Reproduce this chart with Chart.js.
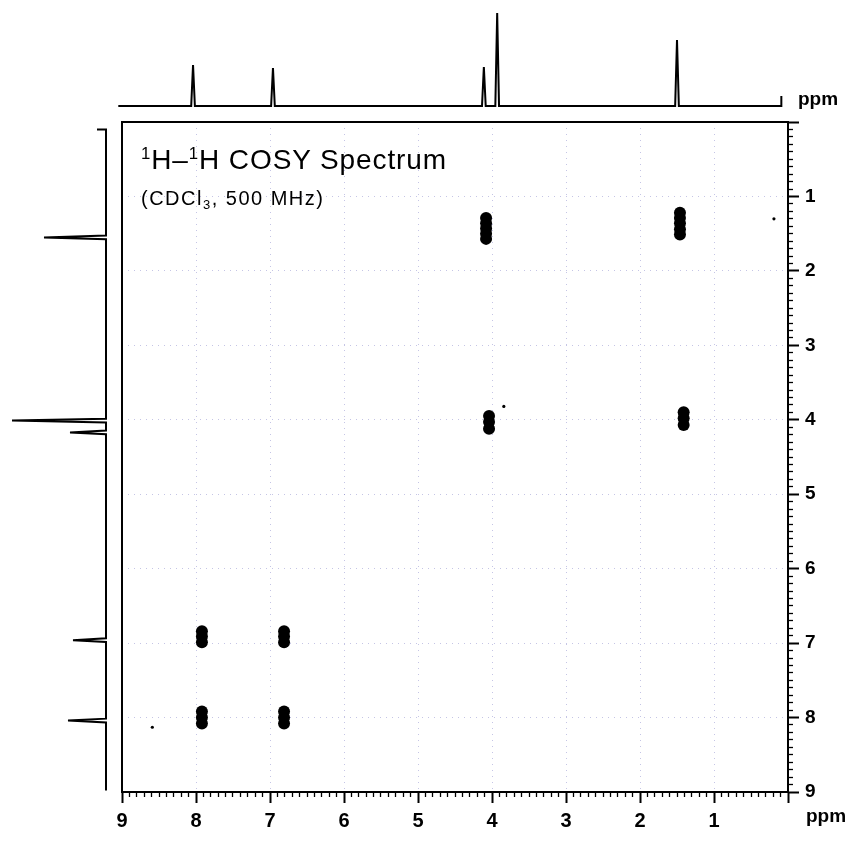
<!DOCTYPE html>
<html>
<head>
<meta charset="utf-8">
<script src="https://cdn.jsdelivr.net/npm/chart.js@4.4.1/dist/chart.umd.min.js"></script>
<style>
  html, body { margin: 0; padding: 0; background: #fff; }
  #wrap { position: relative; width: 853px; height: 843px; overflow: hidden;
          font-family: "Liberation Sans", Arial, sans-serif; }
  canvas { position: absolute; left: 0; top: 0; }
  .lbl { position: absolute; color: #000; white-space: nowrap; line-height: 1; }
  .lbl sup { font-size: 0.6em; position: relative; top: -0.62em; vertical-align: baseline; }
  .lbl sub { font-size: 0.65em; position: relative; top: 0.3em; vertical-align: baseline; }
</style>
</head>
<body>
<div id="wrap">
  <canvas id="topSpec" width="853" height="125"></canvas>
  <canvas id="leftSpec" width="120" height="843"></canvas>
  <canvas id="cosy" width="853" height="843"></canvas>
  <div class="lbl" style="left:141px; top:146px; font-size:28px; letter-spacing:0.9px;"><sup>1</sup>H–<sup>1</sup>H COSY Spectrum</div>
  <div class="lbl" style="left:141px; top:188px; font-size:20px; letter-spacing:1.5px;">(CDCl<sub>3</sub>, 500 MHz)</div>
  <div class="lbl" style="left:798px; top:89px; font-size:19px; font-weight:bold;">ppm</div>
  <div class="lbl" style="left:806px; top:806px; font-size:19px; font-weight:bold;">ppm</div>
</div>
<script>
// 1D projection on top (f2), ppm vs intensity
const topPpm = [9.05, 8.065, 8.04, 8.015, 6.985, 6.96, 6.935, 4.135, 4.11, 4.085, 3.955, 3.93, 3.905, 1.525, 1.50, 1.475, 0.09, 0.09];
const topInt = [0, 0, 41, 0, 0, 38, 0, 0, 39, 0, 0, 93, 0, 0, 66, 0, 0, 10];

// 1D projection on the left (f1)
const leftPpm = [0.10, 0.10, 1.525, 1.55, 1.575, 3.985, 4.01, 4.035, 4.145, 4.17, 4.195, 6.935, 6.96, 6.985, 8.015, 8.04, 8.065, 8.98];
const leftInt = [9, 0, 0, 62, 0, 0, 94, 0, 0, 36, 0, 0, 33, 0, 0, 38, 0, 0];

// cross / diagonal peaks (each contour blob drawn as a few overlapping lobes)
const crossX = [
    4.08, 4.08, 4.08, 4.08, 4.08,
    1.46, 1.46, 1.46, 1.46, 1.46,
    4.04, 4.04, 4.04,
    1.41, 1.41, 1.41,
    7.92, 7.92, 7.92,
    6.81, 6.81, 6.81,
    7.92, 7.92, 7.92,
    6.81, 6.81, 6.81
];
const crossY = [
    1.29, 1.36, 1.43, 1.50, 1.57,
    1.22, 1.29, 1.36, 1.44, 1.51,
    3.95, 4.03, 4.12,
    3.90, 3.98, 4.07,
    6.84, 6.91, 6.99,
    6.84, 6.91, 6.99,
    7.92, 8.00, 8.08,
    7.92, 8.00, 8.08
];

// small noise specks
const speckX = [3.84, 0.19, 8.59];
const speckY = [3.82, 1.30, 8.13];

const ppmMin = 0;
const ppmMax = 9;

function isWhole( v )
{
    return Math.abs(v - Math.round(v)) < 1e-6;
}

function pairs( xs, ys )
{
    return xs.map(( x, i ) => ({ x: x, y: ys[i] }));
}

const gridColor = 'rgba(110,110,190,0.4)';
const tickFontBottom = { family: '"Liberation Sans", Arial, sans-serif', size: 20, weight: 'bold' };
const tickFontRight  = { family: '"Liberation Sans", Arial, sans-serif', size: 19, weight: 'bold' };

function ppmAxis( extra )
{
    return Object.assign({
        type: 'linear',
        min: ppmMin,
        max: ppmMax,
        reverse: true,
        grid: {
            color: (c) => (c.tick && isWhole(c.tick.value) && c.tick.value > 0 && c.tick.value < 9) ? gridColor : 'rgba(0,0,0,0)',
            lineWidth: 1,
            tickLength: 11,
            tickColor: '#000',
            tickWidth: (c) => (c.tick && isWhole(c.tick.value)) ? 2 : 1.3,
            tickBorderDash: (c) => (c.tick && isWhole(c.tick.value)) ? [] : [4, 40]
        },
        border: { display: true, color: '#000', width: 2, dash: [1, 5] }
    }, extra);
}

const framePlugin = {
    id: 'frame',
    afterDraw( chart )
    {
        const a = chart.chartArea;
        const ctx = chart.ctx;
        ctx.save();
        ctx.strokeStyle = '#000';
        ctx.lineWidth = 2;
        ctx.strokeRect(a.left, a.top, a.right - a.left, a.bottom - a.top);
        ctx.restore();
    }
};

const noAnim = { animation: false, responsive: false, events: [] };

// main 2D COSY plot
new Chart(document.getElementById('cosy'), {
    type: 'scatter',
    data: {
        datasets: [
            {
                data: pairs(crossX, crossY),
                pointRadius: 6,
                pointBackgroundColor: '#000',
                pointBorderWidth: 0
            },
            {
                data: pairs(speckX, speckY),
                pointRadius: 1.6,
                pointBackgroundColor: '#000',
                pointBorderWidth: 0
            }
        ]
    },
    options: Object.assign({}, noAnim, {
        layout: { padding: { left: 122, top: 122, right: 20, bottom: 11 } },
        plugins: { legend: { display: false }, tooltip: { enabled: false } },
        scales: {
            x: ppmAxis({
                position: 'bottom',
                afterFit: (s) => { s.height = 40; },
                ticks: {
                    stepSize: 0.1,
                    autoSkip: false,
                    maxRotation: 0,
                    padding: 6,
                    color: '#000',
                    font: tickFontBottom,
                    callback: (v) => (isWhole(v) && Math.round(v) !== 0) ? String(Math.round(v)) : ''
                }
            }),
            y: ppmAxis({
                position: 'right',
                afterFit: (s) => { s.width = 45; },
                ticks: {
                    stepSize: 0.1,
                    autoSkip: false,
                    padding: 6,
                    color: '#000',
                    font: tickFontRight,
                    callback: (v) => (isWhole(v) && Math.round(v) !== 0) ? String(Math.round(v)) : ''
                }
            })
        }
    }),
    plugins: [framePlugin]
});

// top projection
new Chart(document.getElementById('topSpec'), {
    type: 'scatter',
    data: {
        datasets: [{
            data: pairs(topPpm, topInt),
            showLine: true,
            borderColor: '#000',
            borderWidth: 2,
            pointRadius: 0,
            clip: false
        }]
    },
    options: Object.assign({}, noAnim, {
        layout: { padding: { left: 122, top: 6, right: 65, bottom: 19 } },
        plugins: { legend: { display: false }, tooltip: { enabled: false } },
        scales: {
            x: { type: 'linear', min: ppmMin, max: ppmMax, reverse: true, display: false },
            y: { type: 'linear', min: 0, max: 100, display: false }
        }
    })
});

// left projection
new Chart(document.getElementById('leftSpec'), {
    type: 'scatter',
    data: {
        datasets: [{
            data: pairs(leftInt, leftPpm),
            showLine: true,
            borderColor: '#000',
            borderWidth: 2,
            pointRadius: 0,
            clip: false
        }]
    },
    options: Object.assign({}, noAnim, {
        layout: { padding: { left: 6, top: 122, right: 14, bottom: 51 } },
        plugins: { legend: { display: false }, tooltip: { enabled: false } },
        scales: {
            x: { type: 'linear', min: 0, max: 100, reverse: true, display: false },
            y: { type: 'linear', min: ppmMin, max: ppmMax, reverse: true, display: false }
        }
    })
});
</script>
</body>
</html>
